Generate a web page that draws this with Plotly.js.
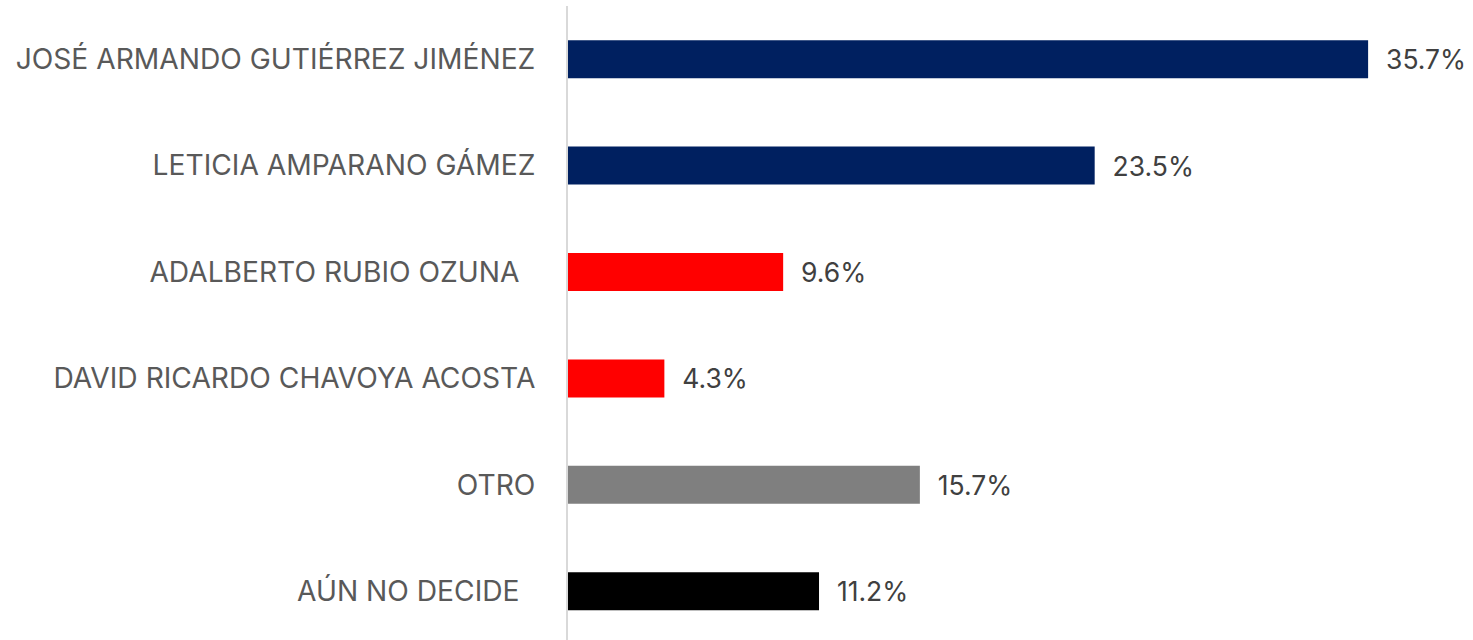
<!DOCTYPE html>
<html>
<head>
<meta charset="utf-8">
<script src="https://cdn.plot.ly/plotly-3.0.1.min.js"></script>
<style>html,body{margin:0;padding:0;overflow:hidden;background:#fff}</style>
</head>
<body>
<div id="chart" style="width:1473px;height:640px"></div>
<script>
const categories = [
  "JOSÉ ARMANDO GUTIÉRREZ JIMÉNEZ",
  "LETICIA AMPARANO GÁMEZ",
  "ADALBERTO RUBIO OZUNA\u00a0\u00a0",
  "DAVID RICARDO CHAVOYA ACOSTA",
  "OTRO",
  "AÚN NO DECIDE\u00a0\u00a0"
];
const values = [35.7, 23.5, 9.6, 4.3, 15.7, 11.2];
const barColors = ["#002060", "#002060", "#FF0000", "#FF0000", "#7F7F7F", "#000000"];
const valueLabels = values.map(v => "\u00a0\u00a0" + v.toFixed(1) + "%");

const trace = {
  type: "bar",
  orientation: "h",
  y: categories,
  x: values,
  marker: {color: barColors},
  text: valueLabels,
  textposition: "outside",
  texttemplate: "%{text}",
  textfont: {family: "Inter, 'Open Sans', sans-serif", size: 26.5, color: "#404040"},
  cliponaxis: false,
  hoverinfo: "none"
};

const layout = {
  width: 1473,
  height: 640,
  margin: {l: 568, r: 0, t: 6, b: 0, pad: 0},
  paper_bgcolor: "#ffffff",
  plot_bgcolor: "#ffffff",
  showlegend: false,
  bargap: 0.643,
  xaxis: {
    range: [0, 40.38],
    showgrid: false,
    zeroline: false,
    showticklabels: false,
    showline: false,
    fixedrange: true
  },
  yaxis: {
    type: "category",
    categoryorder: "array",
    categoryarray: categories,
    range: [5.4586, -0.5],
    showgrid: false,
    zeroline: false,
    showline: true,
    linecolor: "#D9D9D9",
    linewidth: 2,
    ticks: "",
    ticklabelstandoff: 25,
    automargin: false,
    tickfont: {family: "Inter, 'Open Sans', sans-serif", size: 28.2, color: "#595959"},
    fixedrange: true
  }
};

Plotly.newPlot("chart", [trace], layout, {displayModeBar: false, staticPlot: true});
</script>
</body>
</html>
